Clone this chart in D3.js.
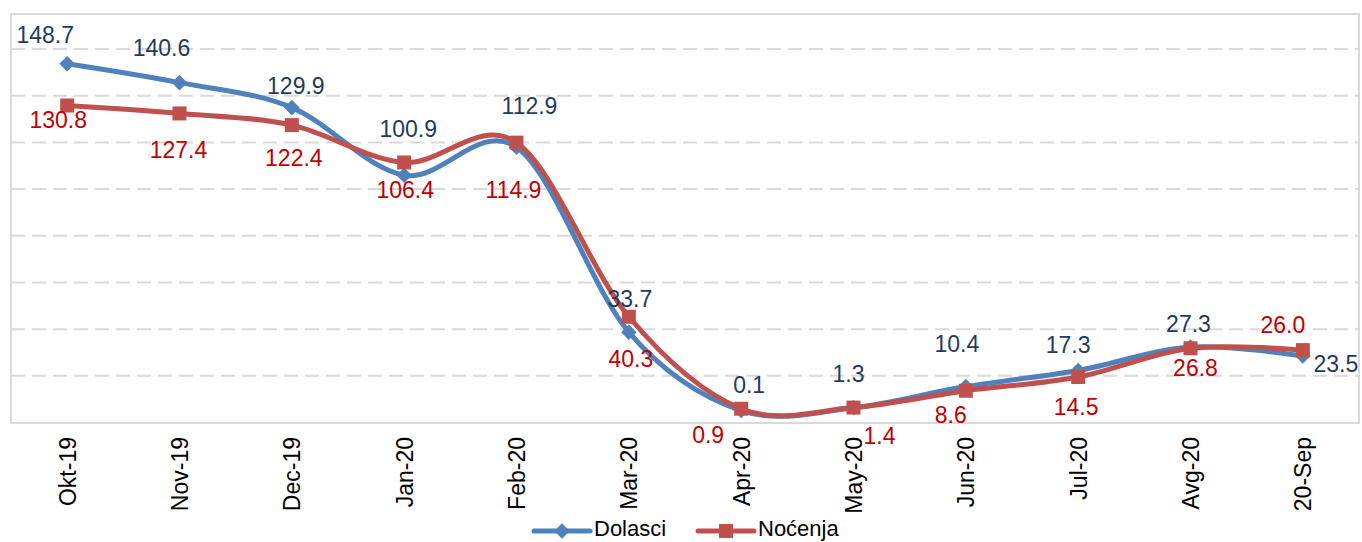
<!DOCTYPE html>
<html><head><meta charset="utf-8">
<script src="https://cdn.jsdelivr.net/npm/d3@7"></script>
<style>body{margin:0;background:#fff}svg{display:block}</style>
</head><body>
<svg id="c" width="1362" height="542"></svg>
<script>
const categories = ["Okt-19","Nov-19","Dec-19","Jan-20","Feb-20","Mar-20","Apr-20","May-20","Jun-20","Jul-20","Avg-20","20-Sep"];
const dolasci = [148.7,140.6,129.9,100.9,112.9,33.7,0.1,1.3,10.4,17.3,27.3,23.5];
const nocenja = [130.8,127.4,122.4,106.4,114.9,40.3,0.9,1.4,8.6,14.5,26.8,26.0];
const gridValues = [15,35,55,75,95,115,135,155];
const seriesNames = ["Dolasci","Noćenja"];
// label offsets (dx, dy of baseline) relative to each marker
const dolasciLabelDx = [-22,-18,4,4,13,1,8,-5,-9,-10,-2,33];
const dolasciLabelDy = [-21,-27,-14,-38,-33,-25,-18,-26,-35,-17,-15,16];
const nocenjaLabelDx = [-9,-1,2,1,-3,2,-33,26,-15,-2,5,-20];
const nocenjaLabelDy = [22,45,41,36,55,50,34,36,32,38,28,-17];

const svg = d3.select("#c");
const L=11, R=1359, T=14, B=423;
const font = "'Liberation Sans', Arial, sans-serif";
const fs = "23px";
const x = d3.scalePoint().domain(categories).range([L,R]).padding(0.5);
const y = d3.scaleLinear().domain([-5,170]).range([B-0.5,T]);

// gridlines
svg.append("g").selectAll("line").data(gridValues).join("line")
  .attr("x1",L).attr("x2",R).attr("y1",d=>y(d)).attr("y2",d=>y(d))
  .attr("stroke","#d9d9d9").attr("stroke-width",2).attr("stroke-dasharray","14,7");
// border
svg.append("rect").attr("x",L).attr("y",T).attr("width",R-L).attr("height",B-T)
  .attr("fill","none").attr("stroke","#d9d9d9").attr("stroke-width",2);

// x axis labels
const xAxis = d3.axisBottom(x).tickSize(0).tickPadding(0);
const gx = svg.append("g").attr("transform",`translate(0,${B})`).call(xAxis);
gx.select(".domain").remove();
gx.selectAll("text").attr("font-family",font).attr("font-size",fs).attr("fill","#000")
  .attr("text-anchor","end").attr("transform","rotate(-90)")
  .attr("x",-14).attr("y",0).attr("dy","0.35em");

const line = d3.line().x((d,i)=>x(categories[i])).y(d=>y(d)).curve(d3.curveCardinal.tension(0));

function drawSeries(vals,color,shape,size){
  svg.append("path").datum(vals).attr("d",line).attr("fill","none")
    .attr("stroke",color).attr("stroke-width",5).attr("stroke-linejoin","round");
  svg.append("g").selectAll("path").data(vals).join("path")
    .attr("transform",(d,i)=>`translate(${x(categories[i])},${y(d)})`)
    .attr("d",d3.symbol().type(shape).size(size)).attr("fill",color);
}
const diamond = {draw(ctx,size){const r=Math.sqrt(size)/2*1.1;ctx.moveTo(0,-r);ctx.lineTo(r,0);ctx.lineTo(0,r);ctx.lineTo(-r,0);ctx.closePath();}};
drawSeries(dolasci,"#4f81bd",diamond,200);
drawSeries(nocenja,"#c0504d",d3.symbolSquare,196);

function drawLabels(vals,dx,dy,color){
  svg.append("g").selectAll("text").data(vals).join("text")
    .attr("x",(d,i)=>x(categories[i])+dx[i]).attr("y",(d,i)=>y(d)+dy[i])
    .attr("text-anchor","middle").attr("font-family",font).attr("font-size",fs)
    .attr("fill",color).text(d=>d.toFixed(1));
}
drawLabels(dolasci,dolasciLabelDx,dolasciLabelDy,"#1f3a60");
drawLabels(nocenja,nocenjaLabelDx,nocenjaLabelDy,"#c00000");

// legend
const lg = svg.append("g");
const items = [{name:seriesNames[0],color:"#4f81bd",shape:diamond,size:200,x0:534},
               {name:seriesNames[1],color:"#c0504d",shape:d3.symbolSquare,size:196,x0:698}];
items.forEach(it=>{
  lg.append("line").attr("x1",it.x0).attr("x2",it.x0+56).attr("y1",531).attr("y2",531)
    .attr("stroke",it.color).attr("stroke-width",5).attr("stroke-linecap","round");
  lg.append("path").attr("transform",`translate(${it.x0+28},531)`)
    .attr("d",d3.symbol().type(it.shape).size(it.size)).attr("fill",it.color);
  lg.append("text").attr("x",it.x0+60).attr("y",536).attr("font-family",font)
    .attr("font-size","22px").attr("fill","#000").text(it.name);
});
</script>
</body></html>
